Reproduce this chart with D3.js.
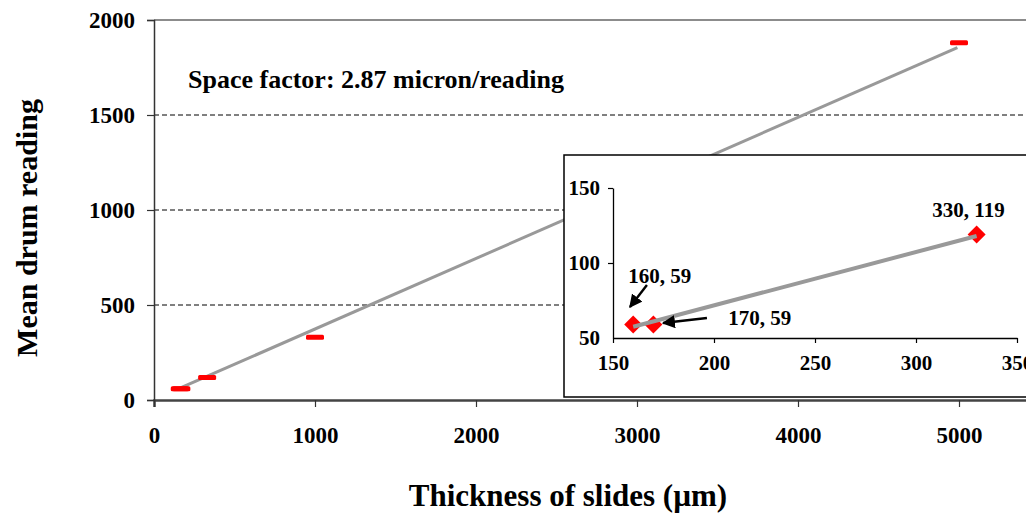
<!DOCTYPE html>
<html>
<head>
<meta charset="utf-8">
<script src="https://cdn.jsdelivr.net/npm/d3@7"></script>
<style>
  html, body { margin: 0; padding: 0; background: #fff; }
  svg { display: block; font-family: "Liberation Serif", "Times New Roman", serif; font-weight: bold; }
</style>
</head>
<body>
<div id="chart"></div>
<script>
// main chart data (thickness in micron, mean drum reading)
const thickness = [160, 170, 330, 1000, 5000];
const readings = [59, 59, 119, 330, 1880];
const trendX = [150, 4990];
const trendY = [58, 1855];
const xTicks = [0, 1000, 2000, 3000, 4000, 5000];
const yTicks = [0, 500, 1000, 1500, 2000];
const gridValues = [500, 1000, 1500];

// inset (zoom on the small slides)
const insetX = [160, 170, 330];
const insetY = [59, 59, 119];
const insetTrendX = [160, 330];
const insetTrendY = [57.5, 118];
const insetXTicks = [150, 200, 250, 300, 350];
const insetYTicks = [50, 100, 150];
const insetLabels = ['160, 59', '170, 59', '330, 119'];
const labelX = [157.5, 207, 326];
const labelY = [86.5, 58.5, 130.5];
const arrowFrom = [[166.8, 85.3], [196.5, 63.3]];
const arrowTo = [[158.4, 70.7], [174.8, 60]];

const W = 1026, H = 514;
const fmt = d3.format('d');

const svg = d3.select('#chart')
    .append('svg')
    .attr('width', W)
    .attr('height', H);

const x = d3.scaleLinear().domain([0, 6000]).range([154, 1120]);
const y = d3.scaleLinear().domain([0, 2000]).range([400, 20]);

// top border of the plot area
svg.append('line')
    .attr('x1', x(0)).attr('x2', W)
    .attr('y1', y(2000)).attr('y2', y(2000))
    .attr('stroke', '#8c8c8c')
    .attr('stroke-width', 2);

// dashed gridlines
svg.selectAll('.grid')
    .data(gridValues)
    .enter().append('line')
    .attr('class', 'grid')
    .attr('x1', x(0)).attr('x2', W)
    .attr('y1', d => y(d)).attr('y2', d => y(d))
    .attr('stroke', '#000')
    .attr('stroke-width', 1)
    .attr('stroke-dasharray', '5,3');

// trend line
const line = d3.line().x(d => x(d[0])).y(d => y(d[1]));
svg.append('path')
    .datum(d3.zip(trendX, trendY))
    .attr('d', line)
    .attr('fill', 'none')
    .attr('stroke', '#999')
    .attr('stroke-width', 3);

// red dash markers
svg.selectAll('.mark')
    .data(d3.zip(thickness, readings))
    .enter().append('rect')
    .attr('class', 'mark')
    .attr('x', d => x(d[0]) - 9)
    .attr('y', d => y(d[1]) - 2.5)
    .attr('width', 18)
    .attr('height', 5)
    .attr('rx', 1.5)
    .attr('fill', '#ff0000');

// axes
const xAxis = svg.append('g')
    .attr('transform', `translate(0,${y(0)})`)
    .call(d3.axisBottom(x).tickValues(xTicks).tickFormat(fmt).tickSize(7).tickPadding(20));
xAxis.select('.domain').attr('stroke', '#444').attr('stroke-width', 2.5);
xAxis.selectAll('.tick line').attr('stroke', '#333').attr('stroke-width', 1.2);
xAxis.selectAll('text')
    .attr('font-size', 23).attr('font-family', '"Liberation Serif", serif')
    .attr('font-weight', 'bold').attr('fill', '#000');

const yAxis = svg.append('g')
    .attr('transform', `translate(${x(0)},0)`)
    .call(d3.axisLeft(y).tickValues(yTicks).tickFormat(fmt).tickSize(7).tickPadding(12));
yAxis.select('.domain').attr('stroke', '#333').attr('stroke-width', 1.5);
yAxis.selectAll('.tick line').attr('stroke', '#333').attr('stroke-width', 1.2);
yAxis.selectAll('text')
    .attr('font-size', 23).attr('font-family', '"Liberation Serif", serif')
    .attr('font-weight', 'bold').attr('fill', '#000');

// axis titles
svg.append('text')
    .attr('x', 568).attr('y', 506)
    .attr('text-anchor', 'middle')
    .attr('font-size', 31)
    .text('Thickness of slides (\u00b5m)');

svg.append('text')
    .attr('transform', 'rotate(-90)')
    .attr('x', -228).attr('y', 37)
    .attr('text-anchor', 'middle')
    .attr('font-size', 30)
    .text('Mean drum reading');

svg.append('text')
    .attr('x', 188).attr('y', 88)
    .attr('font-size', 26)
    .text('Space factor: 2.87 micron/reading');

// ---- inset ----
const inset = svg.append('g');
inset.append('rect')
    .attr('x', 564).attr('y', 155)
    .attr('width', 500).attr('height', 242)
    .attr('fill', '#fff')
    .attr('stroke', '#000')
    .attr('stroke-width', 1.5);

const xi = d3.scaleLinear().domain([150, 350]).range([613, 1017]);
const yi = d3.scaleLinear().domain([50, 150]).range([338, 188]);

const xiAxis = inset.append('g')
    .attr('transform', `translate(0,${yi(50)})`)
    .call(d3.axisBottom(xi).tickValues(insetXTicks).tickSize(5).tickSizeOuter(0).tickPadding(12));
const yiAxis = inset.append('g')
    .attr('transform', `translate(${xi(150)},0)`)
    .call(d3.axisLeft(yi).tickValues(insetYTicks).tickSize(5).tickSizeOuter(0).tickPadding(8));
[xiAxis, yiAxis].forEach(a => {
    a.select('.domain').attr('stroke', '#000').attr('stroke-width', 1.3);
    a.selectAll('.tick line').attr('stroke', '#000').attr('stroke-width', 1.2);
    a.selectAll('text')
        .attr('font-size', 21).attr('font-family', '"Liberation Serif", serif')
        .attr('font-weight', 'bold').attr('fill', '#000');
});
yiAxis.selectAll('.tick').filter(d => d === 50).select('line').remove();

// diamonds
const dia = 9;
inset.selectAll('.dia')
    .data(d3.zip(insetX, insetY))
    .enter().append('path')
    .attr('class', 'dia')
    .attr('d', d => `M${xi(d[0])},${yi(d[1]) - dia}L${xi(d[0]) + dia},${yi(d[1])}L${xi(d[0])},${yi(d[1]) + dia}L${xi(d[0]) - dia},${yi(d[1])}Z`)
    .attr('fill', '#ff0000');

const iline = d3.line().x(d => xi(d[0])).y(d => yi(d[1]));
inset.append('path')
    .datum(d3.zip(insetTrendX, insetTrendY))
    .attr('d', iline)
    .attr('fill', 'none')
    .attr('stroke', '#999')
    .attr('stroke-width', 4);

// arrows
svg.append('defs').append('marker')
    .attr('id', 'head')
    .attr('viewBox', '0 0 10 10')
    .attr('refX', 9).attr('refY', 5)
    .attr('markerWidth', 5.5).attr('markerHeight', 5.5)
    .attr('markerUnits', 'strokeWidth')
    .attr('orient', 'auto')
    .append('path')
    .attr('d', 'M0,0L10,5L0,10Z')
    .attr('fill', '#000');

inset.selectAll('.arrow')
    .data(d3.zip(arrowFrom, arrowTo))
    .enter().append('line')
    .attr('class', 'arrow')
    .attr('x1', d => xi(d[0][0])).attr('y1', d => yi(d[0][1]))
    .attr('x2', d => xi(d[1][0])).attr('y2', d => yi(d[1][1]))
    .attr('stroke', '#000')
    .attr('stroke-width', 2.4)
    .attr('marker-end', 'url(#head)');

inset.selectAll('.lbl')
    .data(insetLabels)
    .enter().append('text')
    .attr('class', 'lbl')
    .attr('x', (d, i) => xi(labelX[i]))
    .attr('y', (d, i) => yi(labelY[i]))
    .attr('text-anchor', (d, i) => i === 2 ? 'middle' : 'start')
    .attr('font-size', 21)
    .text(d => d);
</script>
</body>
</html>
